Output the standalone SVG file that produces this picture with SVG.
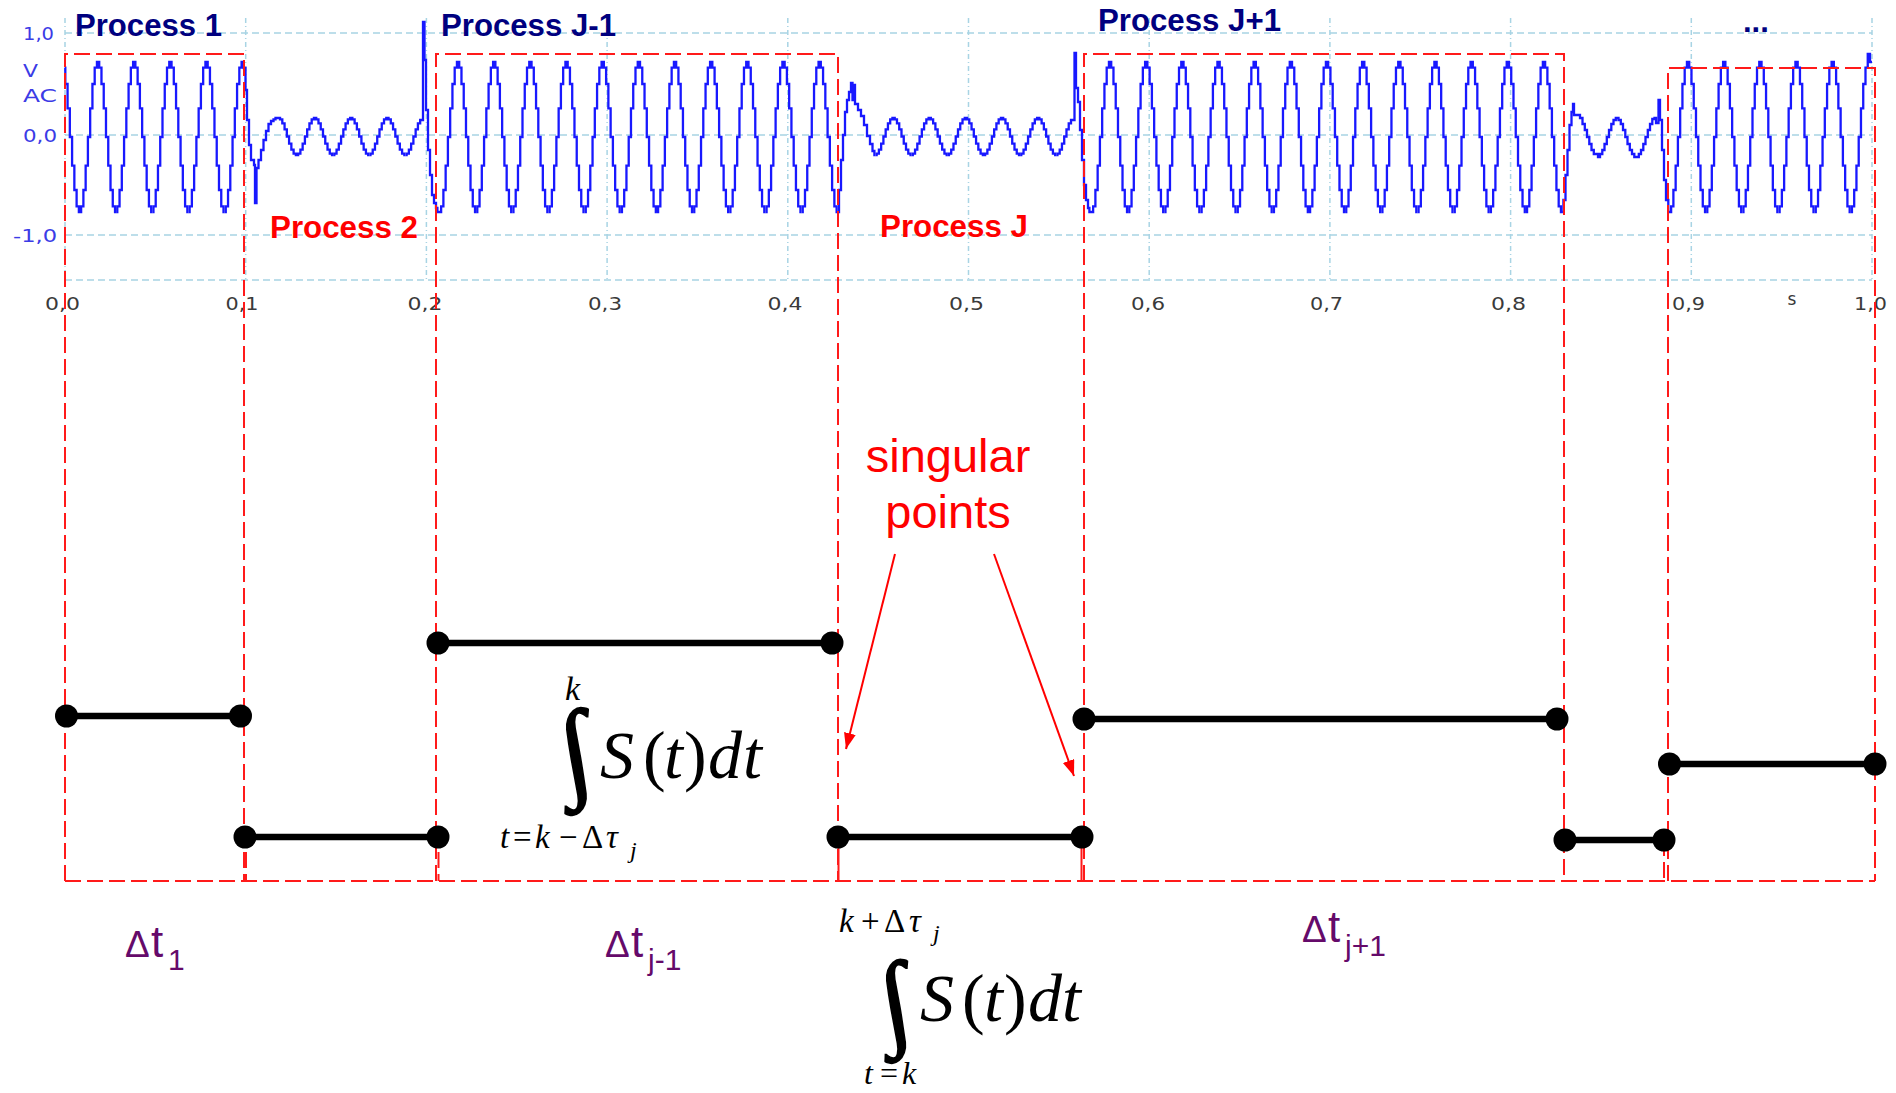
<svg xmlns="http://www.w3.org/2000/svg" width="1896" height="1093" viewBox="0 0 1896 1093">
<style>
.bg{fill:#ffffff}
.hgrid{stroke:#a8d4e4;stroke-width:1.5;stroke-dasharray:7 4;fill:none}
.vgrid{stroke:#a8d4e4;stroke-width:1.5;stroke-dasharray:5 3 1 3;fill:none}
.sig{fill:none;stroke:#1818ff;stroke-width:2.3;stroke-linejoin:miter}
.ylab{font-family:"DejaVu Sans","Liberation Sans",sans-serif;font-size:17px;fill:#3b3be6}
.xlab{font-family:"DejaVu Sans","Liberation Sans",sans-serif;font-size:17px;fill:#3a3a3a;text-anchor:middle}
.pblue{font-family:"Liberation Sans",Arial,sans-serif;font-weight:bold;font-size:31px;fill:#00007f}
.pred{font-family:"Liberation Sans",Arial,sans-serif;font-weight:bold;font-size:31px;fill:#ff0000}
.box{fill:none;stroke:#ff1a1a;stroke-width:2;stroke-dasharray:16 6}
.seg{stroke:#000;stroke-width:6.5;fill:none}
.dot{fill:#000}
.math{font-family:"Liberation Serif","Times New Roman",serif;fill:#000}
.it{font-style:italic}
.intg{font-family:"Liberation Serif","Times New Roman",serif;fill:#000;stroke:#000;stroke-width:1.6}
.dt{font-family:"Liberation Sans",Arial,sans-serif;fill:#650a6a}
.ann{font-family:"Liberation Sans",Arial,sans-serif;fill:#ff0000;font-size:47px;text-anchor:middle}
.arrow{stroke:#ff0000;stroke-width:2;fill:none;marker-end:url(#ah)}
</style>
<defs>
<marker id="ah" markerUnits="userSpaceOnUse" markerWidth="18" markerHeight="14" refX="16" refY="6" orient="auto">
<path d="M0,0 L16,6 L0,12 z" fill="#ff0000"/>
</marker>
<path id="W" d="M0,0h1.13v-5.7h2.26v-16.3h2.26v-24.3h2.26v-28.7h2.26v-28.7h2.26v-24.3h2.26v-16.3h2.26v-5.7h2.26v5.7h2.26v16.3h2.26v24.3h2.26v28.7h2.26v28.7h2.26v24.3h2.26v16.3h2.26v5.7h1.13"/>
<path id="w" d="M0,0h1.13v-1.4h2.26v-4h2.26v-6h2.26v-7.1h2.26v-7.1h2.26v-6h2.26v-4h2.26v-1.4h2.26v1.4h2.26v4h2.26v6h2.26v7.1h2.26v7.1h2.26v6h2.26v4h2.26v1.4h1.13"/>
</defs>
<rect class="bg" x="0" y="0" width="1896" height="1093"/>

<g id="grid">
<path class="hgrid" d="M65,33H1872M65,135H1872M65,235H1872M65,280H1872"/>
<path class="vgrid" d="M65,18V280M245.7,18V280M426.4,18V280M607.1,18V280M787.8,18V280M968.5,18V280M1149.2,18V280M1329.9,18V280M1510.6,18V280M1691.3,18V280M1872,18V280"/>
</g>

<g id="y-axis-labels">
<text class="ylab" x="54" y="40" text-anchor="end" textLength="31" lengthAdjust="spacingAndGlyphs">1,0</text>
<text class="ylab" x="23" y="77" textLength="15" lengthAdjust="spacingAndGlyphs">V</text>
<text class="ylab" x="23" y="102" textLength="34" lengthAdjust="spacingAndGlyphs">AC</text>
<text class="ylab" x="57" y="142" text-anchor="end" textLength="34" lengthAdjust="spacingAndGlyphs">0,0</text>
<text class="ylab" x="57" y="242" text-anchor="end" textLength="44" lengthAdjust="spacingAndGlyphs">-1,0</text>
</g>

<g id="x-axis-labels">
<text class="xlab" x="62.5" y="310" textLength="35" lengthAdjust="spacingAndGlyphs">0,0</text>
<text class="xlab" x="242" y="310" textLength="33" lengthAdjust="spacingAndGlyphs">0,1</text>
<text class="xlab" x="425" y="310" textLength="35" lengthAdjust="spacingAndGlyphs">0,2</text>
<text class="xlab" x="605" y="310" textLength="34" lengthAdjust="spacingAndGlyphs">0,3</text>
<text class="xlab" x="785" y="310" textLength="35" lengthAdjust="spacingAndGlyphs">0,4</text>
<text class="xlab" x="966.5" y="310" textLength="35" lengthAdjust="spacingAndGlyphs">0,5</text>
<text class="xlab" x="1148" y="310" textLength="34" lengthAdjust="spacingAndGlyphs">0,6</text>
<text class="xlab" x="1326.5" y="310" textLength="33" lengthAdjust="spacingAndGlyphs">0,7</text>
<text class="xlab" x="1508.5" y="310" textLength="35" lengthAdjust="spacingAndGlyphs">0,8</text>
<text class="xlab" x="1688.5" y="310" textLength="33" lengthAdjust="spacingAndGlyphs">0,9</text>
<text class="xlab" x="1792" y="305" font-size="14">s</text>
<text class="xlab" x="1870.5" y="310" textLength="33" lengthAdjust="spacingAndGlyphs">1,0</text>
</g>

<g id="waveform" class="sig">
<path d="M65,67.7H65.31V84H67.57V108.3H69.83V137H72.09V165.7H74.35V190H76.61V206.3H78.87V212H80"/>
<use href="#W" x="80" y="212"/><use href="#W" x="116.16" y="212"/><use href="#W" x="152.32" y="212"/><use href="#W" x="188.48" y="212"/>
<path d="M224.64,212H225.77V206.3H228.03V190H230.29V165.7H232.55V137H234.81V108.3H237.07V84H239.33V67.7H241.59V62H243.85V68H245.5V90H247V120H249V145H251V160H254V165H255V203H256.5V168H258.5V160H261V150H263.5V140H266V131H268.5V124H271V121H273.5V119.4H275.5V118H280.05V119.4H282.31V123.4H284.57V129.4H286.83V136.5H289.09V143.6H291.35V149.6H293.61V153.6H295.87V155H297"/>
<use href="#w" x="297" y="155"/><use href="#w" x="333.16" y="155"/><use href="#w" x="369.32" y="155"/>
<path d="M405.48,155H406.61V153.6H408.87V149.6H411.13V143.6H413.39V136.5H415.65V129.4H417.91V123.4H420.17V120H423V22H424.5V60H426V110H428V150H430V175H432V195H434V203H436V208H437.4V212H440"/>
<use href="#W" x="440" y="212"/><use href="#W" x="476.16" y="212"/><use href="#W" x="512.32" y="212"/><use href="#W" x="548.48" y="212"/><use href="#W" x="584.64" y="212"/><use href="#W" x="620.8" y="212"/><use href="#W" x="656.96" y="212"/><use href="#W" x="693.12" y="212"/><use href="#W" x="729.28" y="212"/><use href="#W" x="765.44" y="212"/><use href="#W" x="801.6" y="212"/>
<path d="M837.76,212H839V190H841V160H843V135H845V112H847V100H849V92H851V83H852.5V100H853.5V85H855V104H858V110H861V116H864V125H867V136H870V144H872.5V151H874.4V155H875.5"/>
<use href="#w" x="875.5" y="155"/><use href="#w" x="911.66" y="155"/><use href="#w" x="947.82" y="155"/><use href="#w" x="983.98" y="155"/><use href="#w" x="1020.14" y="155"/>
<path d="M1056.3,155H1057.43V153.6H1059.69V149.6H1061.95V143.6H1064.21V136.5H1066.47V129.4H1068.73V123.4H1071V120H1074.5V53H1076V88H1078V102H1080V130H1082V160H1084V185H1086V200H1088V208H1089.4V212H1092"/>
<use href="#W" x="1092" y="212"/><use href="#W" x="1128.16" y="212"/><use href="#W" x="1164.32" y="212"/><use href="#W" x="1200.48" y="212"/><use href="#W" x="1236.64" y="212"/><use href="#W" x="1272.8" y="212"/><use href="#W" x="1308.96" y="212"/><use href="#W" x="1345.12" y="212"/><use href="#W" x="1381.28" y="212"/><use href="#W" x="1417.44" y="212"/><use href="#W" x="1453.6" y="212"/><use href="#W" x="1489.76" y="212"/><use href="#W" x="1525.92" y="212"/>
<path d="M1562.08,212H1563.4V200H1565.5V175H1567.5V150H1569.5V125H1571.5V112H1573V104H1574V115H1580V118H1582.5V124H1584.8V130H1587V137H1589.3V144H1591.5V150H1593.8V154H1598V157H1600V154H1602.3V150H1604.5V144H1606.8V137H1609V130H1611.3V124H1613.5V120H1615.8V118H1618.5V120H1620.8V124H1623V130H1625.3V137H1627.5V144H1629.8V150H1632V154H1634.3V157H1638.8V154H1641V150H1643.3V144H1645.5V137H1647.8V130H1650V124H1652.3V119H1654.5V118H1656V123H1658.5V100H1660V120H1662V150H1664V180H1666V200H1668.3V212H1670"/>
<use href="#W" x="1670" y="212"/><use href="#W" x="1706.16" y="212"/><use href="#W" x="1742.32" y="212"/><use href="#W" x="1778.48" y="212"/><use href="#W" x="1814.64" y="212"/>
<path d="M1850.8,212H1851.93V206.3H1854.19V190H1856.45V165.7H1858.71V137H1860.97V108.3H1863.23V84H1865.49V67.7H1867.75V54H1870V62H1872"/>
</g>

<g id="process-boxes">
<path class="box" d="M65,881V54H244V881"/>
<path class="box" d="M436,881V54H838V881"/>
<path class="box" d="M1084,881V54H1564V881"/>
<path class="box" d="M1668,881V68H1875V881"/>
<path class="box" d="M65,881H1875"/>
<path class="box" d="M246,830V881M438.5,830V881M1664,840V881"/>
<path d="M838.5,845V881M1081.5,845V881" stroke="#ff1a1a" stroke-width="2"/>
</g>

<g id="process-labels">
<text class="pblue" x="75" y="36" textLength="147" lengthAdjust="spacingAndGlyphs">Process 1</text>
<text class="pblue" x="441" y="36" textLength="175" lengthAdjust="spacingAndGlyphs">Process J-1</text>
<text class="pblue" x="1098" y="31" textLength="183" lengthAdjust="spacingAndGlyphs">Process J+1</text>
<text class="pblue" x="1743" y="32">...</text>
<text class="pred" x="270" y="238" textLength="148" lengthAdjust="spacingAndGlyphs">Process 2</text>
<text class="pred" x="880" y="237" textLength="148" lengthAdjust="spacingAndGlyphs">Process J</text>
</g>

<g id="level-1"><path class="seg" d="M66.5,716H240.5"/><circle class="dot" cx="66.5" cy="716" r="11.5"/><circle class="dot" cx="240.5" cy="716" r="11.5"/></g>
<g id="level-2"><path class="seg" d="M245,837H438"/><circle class="dot" cx="245" cy="837" r="11.5"/><circle class="dot" cx="438" cy="837" r="11.5"/></g>
<g id="level-3"><path class="seg" d="M438,643H832"/><circle class="dot" cx="438" cy="643" r="11.5"/><circle class="dot" cx="832" cy="643" r="11.5"/></g>
<g id="level-4"><path class="seg" d="M838,837H1082"/><circle class="dot" cx="838" cy="837" r="11.5"/><circle class="dot" cx="1082" cy="837" r="11.5"/></g>
<g id="level-5"><path class="seg" d="M1084,719H1557"/><circle class="dot" cx="1084" cy="719" r="11.5"/><circle class="dot" cx="1557" cy="719" r="11.5"/></g>
<g id="level-6"><path class="seg" d="M1565,840H1664"/><circle class="dot" cx="1565" cy="840" r="11.5"/><circle class="dot" cx="1664" cy="840" r="11.5"/></g>
<g id="level-7"><path class="seg" d="M1669.5,764H1875"/><circle class="dot" cx="1669.5" cy="764" r="11.5"/><circle class="dot" cx="1875" cy="764" r="11.5"/></g>

<g id="formula-1" class="math">
<text class="it" x="565" y="700" font-size="34">k</text>
<text class="intg" transform="translate(566,786) skewX(10)" font-size="110">∫</text>
<text font-size="68" y="778"><tspan class="it" x="600">S</tspan><tspan x="643">(</tspan><tspan class="it" x="664">t</tspan><tspan x="684">)</tspan><tspan class="it" x="708">d</tspan><tspan class="it" x="743">t</tspan></text>
<text font-size="33" y="848"><tspan class="it" x="500">t</tspan><tspan x="513">=</tspan><tspan class="it" x="535">k</tspan><tspan x="559">−</tspan><tspan x="582">Δ</tspan><tspan class="it" x="606">τ</tspan><tspan class="it" x="630" y="858" font-size="24">j</tspan></text>
</g>

<g id="formula-2" class="math">
<text font-size="33" y="932"><tspan class="it" x="839">k</tspan><tspan x="861">+</tspan><tspan x="884">Δ</tspan><tspan class="it" x="909">τ</tspan><tspan class="it" x="933" y="941" font-size="24">j</tspan></text>
<text class="intg" transform="translate(886,1035) skewX(10)" font-size="106">∫</text>
<text font-size="68" y="1021"><tspan class="it" x="920">S</tspan><tspan x="962">(</tspan><tspan class="it" x="984">t</tspan><tspan x="1004">)</tspan><tspan class="it" x="1028">d</tspan><tspan class="it" x="1062">t</tspan></text>
<text font-size="32" y="1084"><tspan class="it" x="864">t</tspan><tspan x="880">=</tspan><tspan class="it" x="902">k</tspan></text>
</g>

<g id="dt-labels">
<text class="dt" y="957"><tspan x="125" font-size="37">Δ</tspan><tspan x="151" font-size="44">t</tspan><tspan x="168" y="970" font-size="30">1</tspan></text>
<text class="dt" y="957"><tspan x="605" font-size="37">Δ</tspan><tspan x="631" font-size="44">t</tspan><tspan x="648" y="970" font-size="30">j-1</tspan></text>
<text class="dt" y="942"><tspan x="1302" font-size="37">Δ</tspan><tspan x="1328" font-size="44">t</tspan><tspan x="1345" y="956" font-size="30">j+1</tspan></text>
</g>

<g id="singular-points">
<text class="ann" x="948" y="472">singular</text>
<text class="ann" x="948" y="528">points</text>
</g>

<g id="connectors">
<path class="arrow" d="M895,554L846,749"/>
<path class="arrow" d="M994,554L1074,776"/>
</g>
</svg>
